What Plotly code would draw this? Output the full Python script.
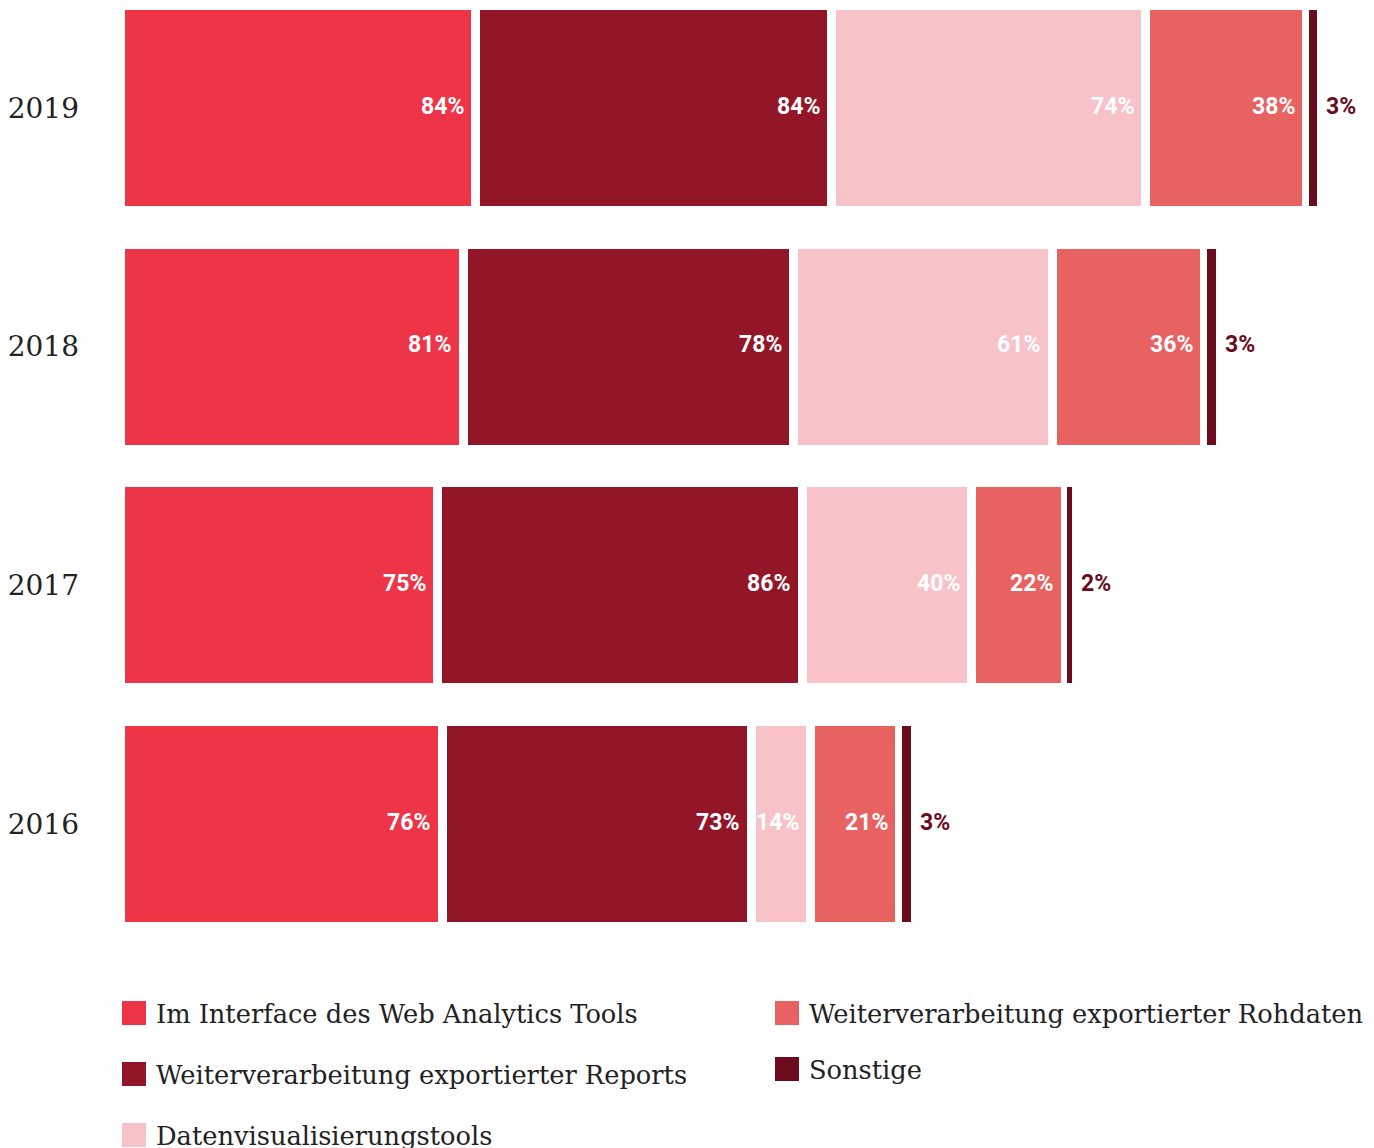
import plotly.graph_objects as go

# Survey years (bottom to top) and share of respondents per evaluation method, in %
years = ["2016", "2017", "2018", "2019"]

series_names = [
    "Im Interface des Web Analytics Tools",
    "Weiterverarbeitung exportierter Reports",
    "Datenvisualisierungstools",
    "Weiterverarbeitung exportierter Rohdaten",
    "Sonstige",
]
interface_vals = [76, 75, 81, 84]
reports_vals = [73, 86, 78, 84]
datavis_vals = [14, 40, 61, 74]
rohdaten_vals = [21, 22, 36, 38]
sonstige_vals = [3, 2, 3, 3]

series_values = [interface_vals, reports_vals, datavis_vals, rohdaten_vals, sonstige_vals]
colors = ["#EE3547", "#921628", "#F8C3C8", "#E86262", "#6A0B1E"]

W, H = 1374, 1148
ML, MR, MT, MB = 120, 0, 0, 208
PW, PH = W - ML - MR, H - MT - MB
PX_PER_UNIT = 4.238

fig = go.Figure()
annotations = []
running = [0] * len(years)

for i, (name, vals, col) in enumerate(zip(series_names, series_values, colors)):
    last = i == len(series_names) - 1
    fig.add_trace(go.Bar(
        name=name,
        y=years,
        x=vals,
        orientation="h",
        width=0.838 if last else 0.859,
        marker=dict(color=col, line=dict(color="white", width=4 if last else 9)),
        showlegend=False,
        hoverinfo="skip",
    ))
    # value labels at the end of each segment (y given as category index)
    for j, v in enumerate(vals):
        running[j] += v
        annotations.append(dict(
            x=running[j], y=j, xref="x", yref="y",
            text=f"{v}%", showarrow=False,
            xanchor="left" if last else "right",
            xshift=5 if last else -10,
            yshift=2,
            font=dict(family="Roboto", size=23, color=col if last else "white", weight="bold"),
        ))


def px_x(px):
    return (px - ML) / PW


def px_y(py):
    return (MT + PH - py) / PH


# Legend drawn as two columns of swatches and labels below the plot
legend_items = [
    (0, 122, 1013),
    (1, 122, 1074),
    (2, 122, 1135),
    (3, 775, 1013),
    (4, 775, 1069),
]
shapes = []
for idx, lx, cy in legend_items:
    shapes.append(dict(
        type="rect", xref="paper", yref="paper",
        x0=px_x(lx), x1=px_x(lx + 24), y0=px_y(cy + 12), y1=px_y(cy - 12),
        fillcolor=colors[idx], line=dict(width=0),
    ))
    annotations.append(dict(
        xref="paper", yref="paper", x=px_x(lx + 32), y=px_y(cy + 1),
        xanchor="left", yanchor="middle", showarrow=False,
        text=series_names[idx],
        font=dict(family="DejaVu Serif", size=25.7, color="#222222"),
    ))

fig.update_layout(
    width=W, height=H,
    margin=dict(l=ML, r=MR, t=MT, b=MB, autoexpand=False),
    barmode="stack",
    plot_bgcolor="white",
    paper_bgcolor="white",
    shapes=shapes,
    annotations=annotations,
    xaxis=dict(range=[0, PW / PX_PER_UNIT], visible=False, fixedrange=True),
    yaxis=dict(
        type="category",
        categoryorder="array",
        categoryarray=years,
        range=[-0.486, 3.4525],
        showgrid=False, zeroline=False, showline=False,
        ticks="",
        ticklabelstandoff=40,
        tickfont=dict(family="DejaVu Serif", size=28, color="#222222"),
        fixedrange=True,
    ),
)

fig.write_html("out.html")
